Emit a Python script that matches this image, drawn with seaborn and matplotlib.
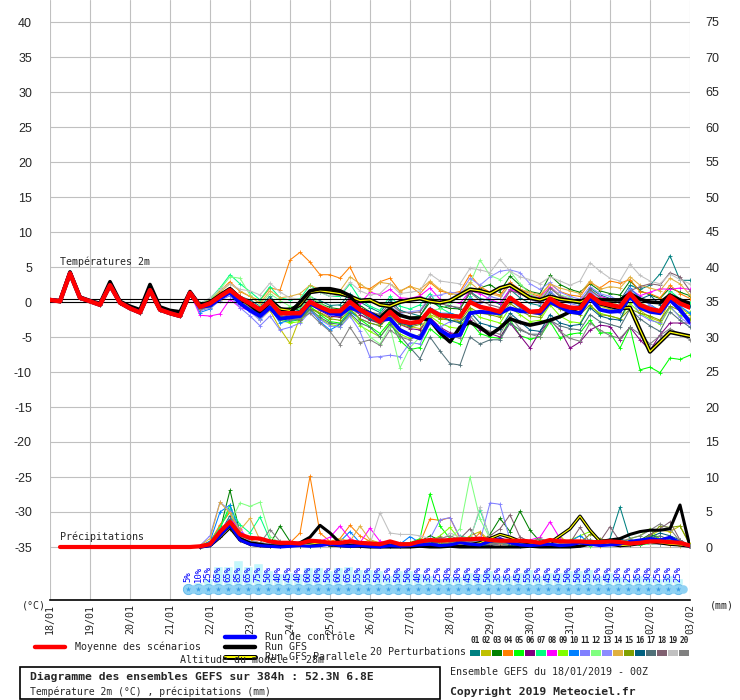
import matplotlib
matplotlib.use("Agg")
import matplotlib.pyplot as plt
from matplotlib.patches import Rectangle
import seaborn as sns
import pandas as pd

# échéances du run : 0h à 384h, pas de 6h
ECHEANCES = list(range(0, 385, 6))
JOURS = list(range(0, 385, 24))
DATES = ["18/01", "19/01", "20/01", "21/01", "22/01", "23/01", "24/01", "25/01", "26/01",
         "27/01", "28/01", "29/01", "30/01", "31/01", "01/02", "02/02", "03/02"]

# début commun (tous les scénarios confondus jusqu'au 21/01 18h)
T_DEBUT = [0.3, 0.1, 4.1, 0.6, 0.1, -0.4, 2.4, -0.1, -0.9, -1.5, 1.7, -1.1, -1.6, -2.0, 1.3]
GFS_DEBUT = [0.3, 0.2, 4.3, 0.7, 0.2, -0.2, 2.9, 0.1, -0.6, -1.1, 2.5, -0.7, -1.2, -1.4, 1.5]

MOYENNE_T = T_DEBUT + [
    -0.7, -0.2, 0.8, 1.7, 0.6, -0.2, -1.1, 0.1, -1.6, -1.6,
    -1.6, 0.0, -0.7, -1.3, -1.3, 0.0, -1.1, -1.9, -2.8, -1.4,
    -2.7, -3.0, -2.8, -1.1, -1.9, -2.0, -2.1, 0.0, -0.7, -1.0,
    -1.4, 0.6, -0.4, -1.4, -1.3, 0.5, -0.4, -0.8, -0.9, 1.0,
    -0.1, -0.4, -0.7, 1.2, -0.4, -1.0, -1.3, 0.8, -0.2, -0.8]
CONTROLE_T = T_DEBUT + [
    -0.7, -0.5, 0.5, 1.4, -0.2, -1.2, -2.0, -0.8, -2.4, -2.2,
    -2.0, -0.2, -0.9, -1.6, -1.8, -0.8, -1.3, -1.6, -2.6, -2.4,
    -4.0, -4.7, -5.2, -2.6, -4.0, -4.9, -4.7, -1.6, -1.4, -1.5,
    -1.6, -0.9, -1.3, -1.4, -1.6, 0.0, -0.7, -1.4, -1.6, 0.6,
    -1.1, -1.4, -1.3, 0.8, -0.8, -1.4, -1.6, 0.3, -1.1, -2.9]
GFS_T = GFS_DEBUT + [
    -0.5, 0.0, 1.0, 1.9, 0.6, -0.4, -1.6, 0.0, -1.4, -1.6,
    0.0, 1.6, 1.9, 1.9, 1.6, 0.9, -1.1, -1.6, -2.3, -1.0,
    -1.9, -2.3, -2.3, -2.6, -4.4, -5.7, -3.6, -2.9, -3.6, -4.7,
    -3.7, -2.4, -2.9, -3.3, -3.0, -2.6, -2.1, -1.4, -0.7, 0.6,
    0.3, 0.3, 0.3, 1.2, 0.4, 0.0, -0.1, 1.0, 0.3, -0.2]
PARALLELE_T = T_DEBUT + [
    -0.6, -0.2, 0.9, 1.8, 0.5, -0.2, -1.2, 0.2, -1.0, -1.2,
    -0.4, 1.4, 1.6, 1.4, 1.2, 0.8, 0.2, 0.3, -0.4, -0.6,
    0.0, 0.3, 0.5, 0.1, -0.1, 0.2, 1.0, 1.8, 1.6, 1.2,
    2.0, 2.4, 1.5, 0.6, 0.3, 0.8, 0.4, 0.2, 0.0, 0.6,
    -0.2, -0.6, -0.9, -0.8, -4.0, -7.1, -5.7, -4.3, -4.6, -4.9]

# 20 perturbations, à partir de 90h
T_P01 = [-0.5, 0.0, 1.0, 2.0, 0.8, 0.3, -0.6, 0.8, -0.8, -1.2,
         -0.9, 0.7, 0.2, -0.5, -0.4, 1.2, 0.0, -0.8, -1.5, 0.3,
         -1.2, -1.6, -2.0, 0.4, -0.8, -0.5, -1.0, 1.5, 0.5, 0.2,
         -0.3, 1.8, 0.6, -0.2, -0.5, 1.4, 0.4, 0.0, -0.3, 2.0,
         1.0, 0.5, 0.2, 2.4, 1.8, 2.4, 4.0, 6.6, 3.1, 3.1]
T_P02 = [-1.0, -0.8, 0.3, 1.2, -0.3, -1.2, -2.5, -1.2, -3.8, -5.9,
         -2.2, -0.8, -1.5, -2.2, -2.0, -0.5, -1.8, -2.5, -3.2, -1.2,
         -2.6, -3.5, -3.8, -1.8, -2.4, -2.2, -2.8, 0.2, -0.5, -1.5,
         -2.0, 0.3, -0.8, -1.6, -1.8, 0.6, -0.7, -1.5, -1.0, 1.2,
         -0.6, -1.0, -1.4, 0.8, -1.2, -2.2, -2.8, 0.4, -0.8, -1.8]
T_P03 = [-0.8, -0.3, 0.9, 1.8, 0.5, -0.4, -1.3, 0.4, -1.0, -0.8,
         -1.2, 0.4, -0.2, -0.8, -1.0, 0.8, -0.5, -1.4, -2.0, -0.6,
         -1.8, -2.2, -2.0, 0.0, -0.6, -0.9, -1.0, 1.3, 2.0, 2.5,
         1.5, 3.7, 2.4, 1.5, 1.2, 3.8, 2.5, 1.8, 1.4, 2.6,
         1.6, 1.2, 1.0, 3.0, 1.6, 1.0, 0.5, 2.0, 1.4, 0.9]
T_P04 = [-0.3, 0.3, 1.6, 2.9, 1.5, 0.8, 0.2, 2.0, 1.7, 6.0,
         7.1, 5.7, 3.9, 3.9, 3.4, 5.0, 2.1, 1.9, 2.9, 3.4,
         1.5, 2.3, 1.2, 2.8, 1.6, 1.2, 1.5, 3.9, 2.2, 1.4,
         1.0, 2.8, 1.8, 1.2, 0.8, 2.6, 1.5, 1.0, 0.8, 2.8,
         2.0, 3.0, 2.7, 3.2, 1.5, 1.2, 0.6, 2.4, 1.2, 0.5]
T_P05 = [-0.9, -0.5, 0.5, 1.5, 0.2, -0.6, -1.8, -0.2, -2.4, -2.8,
         -2.5, -0.6, -1.8, -2.8, -3.0, -1.2, -2.5, -3.5, -4.5, -2.8,
         -5.5, -6.8, -6.5, -3.8, -5.0, -5.5, -6.0, -2.8, -4.5, -5.0,
         -5.2, -2.5, -4.8, -5.3, -5.0, -2.8, -5.1, -4.6, -4.4, -2.6,
         -4.4, -4.4, -6.6, -3.6, -9.7, -9.3, -10.1, -8.0, -8.2, -7.6]
T_P06 = [-0.7, -0.4, 0.6, 1.5, 0.3, -0.5, -1.6, -0.3, -2.0, -2.2,
         -2.0, -0.4, -1.2, -2.0, -2.2, -0.8, -1.8, -2.6, -3.0, -1.8,
         -3.2, -3.8, -4.0, -2.2, -3.6, -4.4, -4.6, -2.6, -4.0, -4.5,
         -5.0, -3.0, -4.8, -6.6, -4.2, -2.6, -4.0, -6.6, -5.7, -4.0,
         -3.3, -3.5, -5.4, -3.6, -5.4, -6.9, -4.7, -3.0, -3.0, -3.0]
T_P07 = [-0.2, 0.5, 2.0, 3.9, 2.6, 1.5, 0.3, 2.2, 0.6, 0.3,
         0.5, 2.4, 1.4, 0.8, 0.8, 2.6, 0.4, -0.6, -1.2, 0.8,
         -0.6, -1.0, -0.4, 1.2, -0.8, -1.6, -2.0, 0.8, -0.6, -1.0,
         -1.8, 0.8, -0.4, -1.2, -1.6, 0.6, -0.6, -1.2, -1.4, 1.2,
         0.0, -0.6, -1.0, 1.4, -0.4, -0.6, -1.2, 1.6, 0.4, -0.2]
T_P08 = [-1.9, -2.0, -1.7, 0.4, -0.8, -1.2, -2.0, -0.5, -2.0, -2.2,
         -1.4, 0.4, -0.5, -1.0, -1.2, 0.6, -0.2, 1.4, 1.0, 1.8,
         0.6, 0.5, 0.9, 2.0, 0.4, 0.1, -0.2, 1.6, 1.2, 0.4,
         -0.2, 1.8, 1.2, 1.0, 0.6, 2.2, 1.0, 0.4, 0.2, 1.6,
         0.8, 0.4, 0.2, 1.8, 0.9, 1.4, 1.9, 1.8, 2.0, 1.8]
T_P09 = [-0.9, -0.6, 0.6, 1.4, 0.1, -0.8, -1.8, -0.4, -2.6, -3.0,
         -2.8, -1.2, -2.4, -3.2, -3.5, -1.8, -3.4, -4.2, -5.0, -3.0,
         -4.6, -5.2, -4.8, -2.0, -3.0, -3.6, -3.8, -1.0, -2.2, -2.6,
         -3.0, -0.8, -1.8, -2.8, -2.6, -0.4, -2.0, -2.8, -3.0, -0.6,
         -1.6, -2.0, -2.4, -0.2, -1.6, -2.4, -3.2, -0.8, -2.0, -1.4]
T_P10 = [-1.5, -1.0, 0.4, 1.2, -0.3, -1.0, -2.4, -0.8, -3.0, -2.6,
         -2.5, -1.0, -2.8, -4.0, -3.2, -1.4, -2.4, -3.0, -3.4, -1.6,
         -3.0, -3.4, -2.6, -0.8, -1.6, -1.6, -2.0, 0.4, -0.4, -1.2,
         -1.6, 0.2, -0.8, -1.2, -1.6, 0.8, -0.2, -0.6, -0.8, 1.4,
         0.2, -0.4, -0.8, 2.0, 0.6, -0.4, -1.2, 1.0, -0.6, -1.6]
T_P11 = [-1.2, -0.9, 0.2, 0.9, -0.8, -2.0, -3.4, -2.0, -4.0, -3.6,
         -3.0, -1.4, -2.5, -3.4, -3.6, -2.0, -4.2, -7.9, -7.8, -7.6,
         -7.8, -5.8, -6.0, -3.0, -3.6, -2.8, -2.4, 0.6, -0.2, 0.8,
         0.4, 2.6, 1.4, 0.4, -0.2, 1.6, 0.2, -0.2, -0.6, 1.6,
         0.2, -0.6, -1.6, 0.8, -1.8, -2.6, -3.0, -0.6, -2.2, -3.2]
T_P12 = [-0.6, 0.2, 1.8, 3.6, 3.4, 1.0, -0.4, 1.2, 0.2, -0.6,
         -1.0, 0.8, -0.2, -1.0, -1.4, 0.2, -3.0, -5.0, -6.0, -3.5,
         -9.4, -6.5, -5.0, -1.2, -1.0, -0.2, 0.8, 2.6, 6.0, 3.8,
         3.2, 4.4, 2.6, 1.2, 0.4, 2.0, 1.0, 0.6, 0.0, 1.8,
         0.6, 0.2, -0.6, 1.4, 0.0, -0.8, -1.4, 1.2, 0.2, -0.4]
T_P13 = [-0.8, -0.4, 0.6, 1.4, 0.0, -1.4, -2.6, -1.0, -2.2, -2.0,
         -1.8, -0.2, -1.0, -1.8, -1.8, -0.4, -1.4, -2.0, -2.4, -0.6,
         -1.6, -1.4, -1.2, 0.8, 1.0, 1.4, 1.2, 3.4, 2.4, 3.6,
         4.4, 4.6, 4.2, 2.6, 1.8, 2.8, 1.4, 0.8, 0.4, 2.2,
         1.2, 0.8, 0.2, 1.8, 0.4, -0.4, -1.6, 0.4, -1.4, -2.4]
T_P14 = [-0.4, 0.2, 1.4, 2.6, 1.6, 0.8, -0.2, 1.6, 0.6, 0.8,
         1.2, 2.4, 1.8, 1.4, 1.6, 3.6, 2.6, 1.6, 2.8, 2.6,
         1.6, 2.2, 1.8, 3.0, 1.8, 1.2, 1.0, 2.8, 1.6, 1.2,
         0.8, 2.4, 1.8, 1.4, 1.0, 2.6, 2.0, 1.6, 1.2, 3.0,
         1.8, 2.2, 2.0, 3.6, 2.4, 2.0, 1.6, 3.4, 2.6, 1.0]
T_P15 = [-1.0, -0.6, 0.4, 1.4, 0.2, -0.6, -1.6, -0.4, -2.0, -2.4,
         -2.6, -1.0, -1.6, -2.4, -2.6, -1.0, -2.4, -3.0, -3.4, -2.0,
         -3.2, -3.6, -3.2, -1.4, -2.4, -2.6, -2.8, -0.8, -1.6, -1.8,
         -2.2, -0.2, -1.2, -2.0, -2.2, -0.2, -1.0, -1.6, -1.8, -0.4,
         -1.8, -2.0, -2.4, -1.0, -1.6, -2.0, -2.6, -0.6, -1.2, -2.4]
T_P16 = [-0.8, -0.4, 0.6, 1.6, 0.6, 0.0, -1.0, 0.4, -1.2, -1.4,
         -1.2, 0.2, -0.8, -1.6, -1.8, -0.2, -1.4, -2.4, -3.0, -1.6,
         -3.0, -3.4, -3.0, -1.0, -2.0, -2.6, -3.0, -1.4, -3.0, -3.4,
         -3.8, -1.6, -2.8, -4.0, -4.2, -1.8, -3.0, -3.4, -3.2, -0.8,
         -2.0, -2.4, -2.6, 0.6, 0.4, 1.0, -0.4, 0.6, 0.2, -0.6]
T_P17 = [-0.9, -0.6, 0.4, 1.2, 0.0, -1.0, -2.0, -0.6, -2.2, -2.4,
         -2.4, -1.0, -2.2, -3.0, -3.2, -1.6, -3.0, -3.6, -5.0, -3.2,
         -4.8, -6.5, -8.1, -5.0, -7.0, -8.8, -9.0, -5.0, -6.0, -5.4,
         -5.4, -3.0, -4.0, -4.6, -4.6, -2.6, -3.4, -3.8, -4.0, -1.8,
         -2.8, -3.2, -3.6, -1.0, -2.4, -3.4, -4.2, -1.4, -2.6, -3.6]
T_P18 = [-0.7, -0.2, 0.8, 1.6, 0.4, -0.4, -1.4, 0.0, -1.8, -2.0,
         -1.6, 0.2, -0.6, -1.2, -1.2, 0.4, -0.8, -1.4, -1.8, -0.2,
         -1.4, -1.6, -1.4, 0.6, -0.2, -0.6, -0.8, 1.4, 0.2, -0.4,
         -0.8, 1.6, 1.2, 0.4, 0.0, 2.0, 0.8, 0.2, 0.0, 1.8,
         0.6, 0.4, -0.2, 1.6, 2.2, 2.6, 2.4, 4.2, 3.6, 1.6]
T_P19 = [-0.2, 0.6, 1.8, 2.6, 1.8, 1.6, 1.0, 2.7, 1.4, 0.6,
         0.4, 1.6, 1.4, 0.8, 1.0, 2.8, 1.6, 1.0, 1.2, 2.6,
         1.2, 1.4, 1.6, 4.0, 3.0, 2.8, 2.6, 4.8, 4.6, 4.2,
         6.1, 4.4, 3.6, 3.2, 2.6, 3.6, 3.0, 2.4, 3.0, 5.6,
         4.4, 3.4, 3.0, 5.4, 3.8, 3.0, 2.6, 4.0, 3.2, 2.6]
T_P20 = [-1.0, -0.6, 0.5, 1.4, 0.0, -0.8, -2.0, -0.4, -2.4, -2.6,
         -2.4, -1.6, -3.0, -4.2, -6.1, -3.6, -5.8, -5.4, -6.2, -4.0,
         -5.0, -5.4, -4.6, -2.6, -3.8, -4.8, -5.2, -2.0, -3.6, -4.2,
         -4.6, -2.0, -3.8, -4.6, -5.0, -2.4, -4.2, -5.2, -5.6, -3.0,
         -4.0, -4.8, -5.2, -3.6, -4.6, -6.0, -4.8, -3.8, -4.6, -5.4]

# précipitations (mm / 6h)
P_DEBUT = [0.0, 0.0, 0.0, 0.0, 0.0, 0.0, 0.0, 0.0, 0.0, 0.0, 0.0, 0.0, 0.0, 0.0]
MOYENNE_P = P_DEBUT + [
    0.1, 0.4, 2.2, 3.6, 1.8, 1.3, 1.2, 0.8, 0.6, 0.6,
    0.5, 0.9, 0.8, 0.6, 0.6, 0.8, 0.6, 0.5, 0.4, 0.8,
    0.4, 0.4, 0.8, 1.0, 0.9, 1.0, 1.1, 1.1, 1.2, 1.0,
    0.9, 0.9, 0.9, 0.8, 0.6, 1.0, 0.8, 0.8, 0.8, 0.7,
    0.7, 0.8, 0.7, 0.5, 0.6, 0.8, 0.8, 0.7, 0.6, 0.2]
CONTROLE_P = [0.0, 0.2, 1.6, 3.2, 1.0, 0.4, 0.2, 0.1, 0.0, 0.1,
              0.2, 0.1, 0.2, 0.4, 0.2, 0.1, 0.2, 0.1, 0.0, 0.2,
              0.1, 0.2, 0.3, 0.4, 0.2, 0.3, 0.6, 0.4, 0.3, 0.8,
              1.2, 0.6, 0.3, 0.2, 0.3, 0.4, 0.2, 0.3, 0.6, 0.4,
              0.2, 0.3, 0.4, 0.8, 1.0, 1.2, 1.0, 1.4, 0.6, 0.1]
GFS_P = [0.0, 0.3, 1.8, 3.0, 1.2, 0.6, 0.4, 0.2, 0.1, 0.2,
         0.6, 1.4, 3.1, 2.0, 0.6, 0.2, 0.1, 0.0, 0.0, 0.0,
         0.0, 0.0, 0.1, 0.0, 0.0, 0.1, 0.0, 0.0, 0.0, 0.0,
         0.0, 0.0, 0.0, 0.1, 0.0, 0.0, 0.0, 0.0, 0.1, 0.4,
         0.8, 1.0, 1.2, 1.8, 2.2, 2.4, 2.4, 2.6, 6.0, 0.0]
PARALLELE_P = [0.0, 0.2, 1.4, 2.8, 1.0, 0.4, 0.2, 0.1, 0.1, 0.2,
               0.3, 0.4, 0.6, 0.3, 0.2, 0.1, 0.2, 0.1, 0.1, 0.2,
               0.1, 0.1, 0.2, 0.1, 0.2, 0.2, 0.4, 0.3, 0.6, 1.2,
               1.8, 1.4, 0.8, 0.6, 0.4, 0.6, 1.6, 2.6, 4.4, 2.4,
               0.8, 0.4, 0.2, 0.3, 0.5, 0.8, 0.6, 0.4, 0.3, 0.1]
P_P01 = [0.2, 0.5, 2.0, 4.5, 1.2, 0.6, 0.4, 0.2, 0.1, 0.3,
         0.2, 0.4, 0.6, 0.3, 0.2, 0.5, 0.3, 0.2, 0.1, 0.4,
         0.2, 0.1, 0.3, 0.6, 0.4, 0.5, 0.8, 0.4, 0.3, 0.2,
         0.5, 0.3, 0.2, 0.4, 0.3, 0.6, 0.4, 0.2, 0.3, 0.5,
         0.4, 1.2, 5.7, 1.0, 0.6, 0.8, 0.5, 1.2, 0.4, 0.1]
P_P02 = [0.1, 0.8, 3.0, 5.0, 1.5, 0.8, 0.5, 0.3, 0.4, 0.2,
         0.3, 0.2, 0.6, 0.8, 0.4, 0.2, 0.5, 1.0, 0.6, 0.3,
         0.4, 0.6, 0.3, 0.8, 1.2, 0.9, 0.6, 1.6, 2.2, 0.8,
         0.6, 0.4, 1.0, 0.8, 0.5, 0.9, 1.4, 0.6, 0.4, 1.0,
         0.8, 0.5, 0.4, 0.6, 0.8, 1.6, 2.4, 2.2, 3.0, 0.4]
P_P03 = [0.0, 0.4, 2.4, 8.1, 2.0, 0.8, 0.6, 0.4, 3.0, 0.8,
         0.4, 0.6, 0.3, 0.5, 0.8, 0.6, 0.2, 0.4, 0.3, 0.6,
         0.3, 0.5, 0.8, 1.6, 1.0, 0.6, 0.8, 1.4, 0.6, 1.8,
         4.1, 2.2, 5.1, 2.4, 0.8, 1.0, 0.6, 0.4, 0.8, 0.6,
         0.4, 0.3, 0.5, 0.8, 1.0, 1.8, 1.2, 0.6, 0.4, 0.2]
P_P04 = [0.1, 0.6, 3.2, 5.0, 1.8, 1.0, 0.6, 0.4, 0.3, 0.6,
         2.0, 10.1, 2.0, 0.8, 1.2, 3.1, 1.6, 0.8, 0.4, 0.6,
         0.3, 0.4, 0.6, 4.0, 3.8, 4.2, 1.2, 0.8, 2.0, 0.6,
         0.4, 0.5, 0.3, 0.6, 0.4, 0.3, 0.5, 0.4, 0.6, 0.3,
         0.2, 0.4, 0.3, 0.6, 0.8, 0.5, 0.4, 0.3, 0.2, 0.1]
P_P05 = [0.0, 0.4, 2.6, 6.0, 1.4, 0.8, 0.4, 0.3, 0.2, 0.4,
         0.2, 0.3, 0.5, 0.2, 0.4, 0.6, 0.3, 0.2, 0.4, 0.5,
         0.4, 0.6, 1.2, 7.6, 3.0, 1.2, 0.8, 0.6, 0.8, 0.5,
         0.4, 0.3, 0.6, 0.8, 0.5, 0.4, 0.3, 0.6, 0.4, 0.2,
         0.3, 0.6, 0.8, 0.4, 0.3, 0.5, 0.6, 0.4, 0.3, 0.1]
P_P06 = [0.0, 0.3, 1.8, 3.2, 1.0, 0.5, 0.3, 0.2, 0.4, 0.2,
         0.1, 0.3, 0.4, 0.2, 0.3, 0.4, 0.2, 0.5, 0.3, 0.2,
         0.4, 0.2, 0.3, 0.6, 0.4, 0.8, 1.0, 0.6, 0.4, 0.3,
         0.5, 0.4, 0.6, 0.3, 0.4, 0.8, 0.6, 0.4, 0.3, 0.5,
         0.4, 0.6, 0.5, 0.3, 0.4, 0.6, 0.8, 0.5, 0.4, 0.2]
P_P07 = [0.2, 0.8, 2.8, 5.5, 3.2, 2.0, 4.3, 1.0, 0.4, 0.2,
         0.3, 0.4, 0.2, 0.6, 0.4, 0.3, 0.5, 0.4, 0.2, 0.3,
         0.2, 0.4, 0.6, 0.8, 1.2, 0.8, 1.6, 1.2, 5.3, 1.4,
         0.6, 0.8, 0.4, 0.3, 0.5, 0.4, 0.6, 0.3, 0.4, 0.6,
         0.4, 0.3, 0.5, 0.8, 0.6, 0.4, 0.5, 0.4, 0.3, 0.1]
P_P08 = [0.0, 0.6, 2.4, 4.0, 2.6, 0.8, 0.4, 0.6, 0.3, 0.8,
         0.6, 0.5, 0.8, 1.4, 3.0, 1.2, 0.6, 2.7, 0.8, 0.4,
         0.3, 0.5, 0.4, 0.6, 0.8, 0.5, 0.6, 0.4, 0.8, 0.6,
         0.4, 0.6, 0.5, 1.0, 1.4, 3.6, 1.2, 0.6, 0.4, 0.5,
         0.6, 0.4, 0.3, 0.5, 0.4, 0.6, 0.8, 0.5, 0.4, 0.2]
P_P09 = [0.0, 0.3, 1.6, 3.0, 1.2, 0.6, 0.4, 0.3, 0.2, 0.3,
         0.4, 0.2, 0.3, 0.5, 0.4, 0.2, 0.3, 0.2, 0.4, 0.3,
         0.5, 0.6, 0.4, 0.8, 1.6, 2.8, 1.0, 0.8, 0.6, 1.2,
         0.8, 0.6, 0.4, 0.5, 0.8, 0.6, 0.4, 1.0, 1.6, 2.2,
         0.8, 0.6, 0.5, 1.2, 1.6, 2.6, 1.0, 0.6, 0.5, 0.1]
P_P10 = [0.1, 0.8, 5.0, 6.0, 2.2, 0.8, 0.6, 0.3, 0.2, 0.4,
         0.3, 0.2, 0.4, 0.5, 0.8, 2.2, 0.6, 0.4, 0.3, 0.2,
         0.4, 1.5, 0.6, 0.8, 0.5, 0.6, 0.4, 0.8, 0.6, 0.4,
         0.5, 0.3, 0.4, 0.6, 0.3, 0.5, 0.4, 0.8, 1.6, 0.6,
         0.4, 0.6, 0.8, 0.5, 0.6, 1.0, 1.2, 0.8, 0.6, 0.2]
P_P11 = [0.2, 1.6, 6.4, 5.2, 2.0, 0.8, 0.6, 0.4, 0.3, 0.2,
         0.2, 0.4, 0.3, 0.6, 0.4, 0.3, 0.5, 0.4, 0.2, 0.3,
         0.2, 0.4, 0.6, 1.2, 3.9, 4.2, 1.4, 0.6, 0.8, 6.3,
         6.1, 1.0, 0.6, 0.4, 0.5, 0.3, 0.6, 0.4, 0.3, 0.5,
         0.4, 0.6, 0.3, 0.5, 0.4, 0.8, 0.6, 0.4, 0.3, 0.1]
P_P12 = [0.0, 0.5, 2.0, 3.4, 6.3, 5.8, 6.4, 1.5, 0.6, 0.4,
         0.3, 0.5, 0.4, 0.2, 0.3, 0.6, 0.4, 0.3, 0.2, 0.4,
         0.3, 0.5, 0.4, 0.8, 0.6, 1.2, 2.6, 10.0, 4.0, 1.2,
         0.6, 0.8, 0.5, 0.4, 0.6, 0.3, 0.5, 0.4, 0.6, 0.3,
         0.4, 0.6, 0.5, 0.3, 0.4, 0.6, 0.8, 0.4, 0.3, 0.1]
P_P13 = [0.0, 0.6, 2.2, 3.0, 1.6, 0.8, 0.5, 0.3, 0.2, 0.4,
         0.3, 0.5, 0.2, 0.4, 0.3, 0.6, 0.4, 0.2, 0.3, 0.4,
         0.4, 0.3, 0.6, 0.8, 0.6, 0.5, 1.0, 0.8, 0.6, 0.8,
         1.2, 0.8, 0.6, 0.4, 0.5, 0.6, 0.8, 0.4, 0.3, 0.6,
         0.5, 0.4, 0.6, 0.8, 0.6, 0.5, 0.4, 0.6, 0.3, 0.1]
P_P14 = [0.2, 1.2, 6.4, 4.8, 2.4, 4.1, 1.0, 0.6, 0.4, 0.3,
         0.6, 0.5, 0.4, 0.6, 1.2, 0.8, 3.0, 1.0, 0.5, 0.4,
         0.3, 0.5, 0.4, 0.6, 0.8, 0.6, 0.5, 0.8, 0.6, 0.4,
         0.5, 0.4, 0.6, 0.8, 0.5, 0.4, 0.3, 0.6, 0.5, 0.4,
         0.3, 0.5, 0.4, 0.6, 0.8, 0.5, 0.6, 0.4, 0.3, 0.1]
P_P15 = [0.0, 0.3, 1.4, 2.6, 1.0, 0.5, 0.3, 0.2, 0.4, 0.3,
         0.2, 0.4, 0.3, 0.5, 0.2, 0.4, 0.3, 0.5, 0.4, 0.3,
         0.5, 0.6, 0.4, 0.8, 0.6, 0.5, 0.8, 1.2, 0.8, 1.6,
         1.0, 0.6, 0.5, 0.8, 1.2, 0.6, 0.4, 0.5, 0.6, 1.8,
         1.2, 0.8, 0.6, 0.5, 0.8, 1.6, 3.0, 2.8, 3.0, 0.3]
P_P16 = [0.0, 0.4, 1.8, 3.6, 1.4, 0.6, 0.4, 0.3, 0.2, 0.4,
         0.3, 0.2, 0.5, 0.4, 0.3, 0.6, 0.4, 0.2, 0.3, 0.5,
         0.4, 0.3, 0.5, 0.6, 0.8, 1.2, 0.6, 0.5, 0.4, 0.6,
         0.8, 0.5, 0.4, 0.6, 0.8, 0.5, 0.4, 0.6, 0.8, 1.0,
         0.6, 0.8, 1.2, 0.6, 0.5, 1.4, 2.0, 1.6, 1.0, 0.2]
P_P17 = [0.0, 0.4, 2.0, 4.0, 1.6, 0.8, 0.5, 0.3, 0.4, 0.2,
         0.3, 0.5, 0.4, 0.2, 0.3, 0.5, 0.4, 0.3, 0.2, 0.4,
         0.3, 0.4, 0.6, 1.0, 0.8, 1.2, 0.8, 0.6, 0.5, 0.4,
         0.6, 0.5, 0.8, 0.6, 0.4, 0.5, 0.6, 0.8, 0.6, 0.4,
         0.5, 0.6, 0.8, 0.5, 0.6, 1.2, 1.6, 1.0, 0.6, 0.2]
P_P18 = [0.0, 0.3, 1.6, 3.0, 1.2, 0.6, 0.4, 0.6, 0.3, 0.2,
         0.4, 0.3, 0.5, 0.6, 0.4, 0.3, 0.5, 0.6, 0.4, 0.3,
         0.5, 0.4, 0.6, 0.8, 1.4, 0.6, 1.2, 2.6, 0.8, 1.6,
         2.6, 4.6, 1.4, 0.8, 0.6, 0.5, 0.8, 0.6, 2.8, 0.6,
         0.8, 2.9, 0.8, 0.6, 0.5, 1.8, 2.6, 3.6, 1.0, 0.2]
P_P19 = [0.0, 0.4, 1.8, 3.4, 1.6, 0.8, 0.6, 0.4, 0.3, 0.5,
         0.4, 0.6, 0.5, 0.8, 0.6, 0.5, 0.6, 0.4, 4.9, 2.0,
         1.8, 1.8, 1.6, 1.2, 0.8, 2.0, 1.4, 1.0, 5.7, 1.2,
         0.8, 0.6, 0.4, 0.5, 0.6, 0.4, 0.5, 0.6, 0.8, 0.6,
         0.5, 0.4, 0.6, 0.8, 0.6, 0.5, 0.8, 0.6, 0.4, 0.2]
P_P20 = [0.0, 0.3, 1.6, 3.2, 1.4, 0.6, 0.5, 2.5, 0.8, 0.6,
         0.4, 0.5, 0.6, 0.4, 0.3, 0.5, 0.4, 0.6, 0.5, 0.4,
         0.6, 0.5, 0.8, 1.0, 1.2, 1.6, 1.0, 0.8, 0.6, 0.5,
         0.6, 0.8, 0.5, 0.6, 1.2, 0.8, 0.6, 0.5, 0.6, 1.0,
         0.8, 0.6, 0.8, 1.2, 1.6, 2.4, 3.3, 2.6, 0.8, 0.2]

# probabilité de neige (%) de 84h à 378h
POURCENTAGES = [5, 10, 25, 65, 65, 85, 65, 75, 50, 40, 45, 40, 60, 60, 50, 60, 65, 55, 55, 50,
                35, 50, 50, 40, 35, 25, 30, 30, 45, 40, 50, 35, 35, 45, 55, 35, 45, 45, 50, 50,
                55, 35, 45, 30, 25, 35, 30, 25, 35, 25]

NUMEROS = ["01", "02", "03", "04", "05", "06", "07", "08", "09", "10",
           "11", "12", "13", "14", "15", "16", "17", "18", "19", "20"]
COULEURS = ["#008080", "#c0c000", "#008000", "#ff8000", "#00ff00", "#800080", "#00ff80",
            "#ff00ff", "#80ff00", "#0080ff", "#8080ff", "#80ff80", "#8c8cff", "#e0b040",
            "#80a000", "#006080", "#507078", "#806070", "#c0c0c0", "#808080"]

PERTURB_T = [T_P01, T_P02, T_P03, T_P04, T_P05, T_P06, T_P07, T_P08, T_P09, T_P10,
             T_P11, T_P12, T_P13, T_P14, T_P15, T_P16, T_P17, T_P18, T_P19, T_P20]
PERTURB_P = [P_P01, P_P02, P_P03, P_P04, P_P05, P_P06, P_P07, P_P08, P_P09, P_P10,
             P_P11, P_P12, P_P13, P_P14, P_P15, P_P16, P_P17, P_P18, P_P19, P_P20]

ZERO_PRECIP = -35  # le 0 mm (axe de droite) est placé à -35 °C

for s in PERTURB_T + PERTURB_P + [CONTROLE_P, GFS_P, PARALLELE_P]:
    assert len(s) == 50, len(s)
for s in [MOYENNE_T, CONTROLE_T, GFS_T, PARALLELE_T]:
    assert len(s) == 65, len(s)

# tables longues pour seaborn
rows_t, rows_p = [], []
h_suite = ECHEANCES[15:]
for num, t_vals, p_vals in zip(NUMEROS, PERTURB_T, PERTURB_P):
    for h, v in zip(ECHEANCES, T_DEBUT + t_vals):
        rows_t.append((num, h, v))
    for h, v in zip(h_suite, p_vals):
        rows_p.append((num, h, ZERO_PRECIP + v))
df_t = pd.DataFrame(rows_t, columns=["membre", "heure", "valeur"])
df_p = pd.DataFrame(rows_p, columns=["membre", "heure", "valeur"])
palette = dict(zip(NUMEROS, COULEURS))

sns.set_style("white")
plt.rcParams["font.family"] = ["Liberation Sans", "DejaVu Sans"]
plt.rcParams["axes.unicode_minus"] = False
MONO = "DejaVu Sans Mono"

fig = plt.figure(figsize=(7.4, 7.0), dpi=100)
ax = fig.add_axes([50 / 740, 100 / 700, 640 / 740, 600 / 700])
YMIN, YMAX = -35 - 53 / 7, 40 + 22 / 7
ax.set_xlim(0, 384)
ax.set_ylim(YMIN, YMAX)

# grille
ax.set_xticks(JOURS)
ax.set_xticklabels(DATES, rotation=90, fontsize=7.2, family=MONO)
ax.set_yticks(range(-35, 41, 5))
ax.tick_params(axis="x", length=0, pad=3)
ax.tick_params(axis="y", length=0, pad=13, labelsize=9)
ax.grid(True, color="#c0c0c0", linewidth=0.8)
ax.set_axisbelow(True)
for side in ["top", "left", "right"]:
    ax.spines[side].set_visible(False)
ax.spines["bottom"].set_color("black")
ax.spines["bottom"].set_linewidth(1.2)

ax2 = ax.twinx()
ax2.set_ylim(YMIN - ZERO_PRECIP, YMAX - ZERO_PRECIP)
ax2.set_yticks(range(0, 76, 5))
ax2.tick_params(axis="y", length=0, pad=11, labelsize=9)
for side in ax2.spines:
    ax2.spines[side].set_visible(False)

# probabilité de neige : barres + étiquettes + flocons
h_pct = [h - 1.2 for h in ECHEANCES[14:64]]
ax.bar(h_pct, [p * 0.3 / 7 for p in POURCENTAGES], bottom=-40.43, width=6,
       color="#c4f6fa", zorder=1)
for h, p in zip(h_pct, POURCENTAGES):
    ax.text(h, -40.0, f"{p}%", rotation=90, ha="center", va="bottom",
            fontsize=6.4, family=MONO, color="#0000ff", zorder=4)
ax.scatter(h_pct, [-41.0] * len(h_pct), s=55, marker="o", color="#8fd2f4",
           edgecolor="#5cb6ea", linewidth=0.6, zorder=2, clip_on=False)
ax.scatter([h + 3 for h in h_pct], [-41.0] * len(h_pct), s=38, marker="o",
           color="#8fd2f4", linewidth=0, zorder=2, clip_on=False)
ax.scatter(h_pct, [-41.0] * len(h_pct), s=16, marker="*", color="#3a9ee6",
           linewidth=0, zorder=3, clip_on=False)

# perturbations
sns.lineplot(data=df_t, x="heure", y="valeur", hue="membre", palette=palette,
             estimator=None, linewidth=0.75, marker="+", markersize=3.5,
             legend=False, ax=ax)
sns.lineplot(data=df_p, x="heure", y="valeur", hue="membre", palette=palette,
             estimator=None, linewidth=0.75, marker="+", markersize=3.5,
             legend=False, ax=ax)
for ln in ax.lines:
    ln.set_markeredgecolor(ln.get_color())
    ln.set_markeredgewidth(0.6)

# isotherme 0 °C (double trait)
ax.axhline(0, color="black", linewidth=0.8, zorder=2.5)
ax.axhline(0.5, color="black", linewidth=0.8, zorder=2.5)

# runs déterministes et moyenne
sns.lineplot(x=ECHEANCES, y=PARALLELE_T, color="black", linewidth=3.0, ax=ax, zorder=3)
sns.lineplot(x=ECHEANCES, y=PARALLELE_T, color="#ffff00", linewidth=0.9, ax=ax, zorder=3.1)
sns.lineplot(x=ECHEANCES, y=GFS_T, color="black", linewidth=2.6, ax=ax, zorder=3.2)
sns.lineplot(x=ECHEANCES, y=CONTROLE_T, color="#0000ff", linewidth=2.8, ax=ax, zorder=3.3)
sns.lineplot(x=ECHEANCES, y=MOYENNE_T, color="#ff0000", linewidth=3.2, ax=ax, zorder=3.5)

p_par = [ZERO_PRECIP + v for v in PARALLELE_P]
sns.lineplot(x=h_suite, y=p_par, color="black", linewidth=2.4, ax=ax, zorder=3)
sns.lineplot(x=h_suite, y=p_par, color="#ffff00", linewidth=0.8, ax=ax, zorder=3.1)
sns.lineplot(x=h_suite, y=[ZERO_PRECIP + v for v in GFS_P], color="black",
             linewidth=2.2, ax=ax, zorder=3.2)
sns.lineplot(x=h_suite, y=[ZERO_PRECIP + v for v in CONTROLE_P], color="#0000ff",
             linewidth=2.2, ax=ax, zorder=3.3)
sns.lineplot(x=ECHEANCES[1:], y=[ZERO_PRECIP + v for v in MOYENNE_P], color="#ff0000",
             linewidth=3.0, ax=ax, zorder=3.5)
ax.set_xlabel("")
ax.set_ylabel("")

ax.text(6, 40 - 240 / 7, "Températures 2m", fontsize=7.2, family=MONO,
        va="center", ha="left", zorder=5)
ax.text(6, 40 - 515 / 7, "Précipitations", fontsize=7.2, family=MONO,
        va="center", ha="left", zorder=5)

# zone de légende, en pixels
ov = fig.add_axes([0, 0, 1, 1])
ov.set_xlim(0, 740)
ov.set_ylim(700, 0)
ov.axis("off")
ov.text(22, 606, "(°C)", fontsize=7.2, family=MONO, va="center")
ov.text(710, 606, "(mm)", fontsize=7.2, family=MONO, va="center")

ov.plot([35, 65], [647, 647], color="#ff0000", linewidth=3.2)
ov.text(75, 647, "Moyenne des scénarios", fontsize=7.2, family=MONO, va="center")
ov.plot([225, 255], [637, 637], color="#0000ff", linewidth=3.2)
ov.plot([225, 255], [647, 647], color="black", linewidth=3.2)
ov.plot([225, 255], [657, 657], color="black", linewidth=3.6)
ov.plot([225, 255], [657, 657], color="#ffff00", linewidth=1.4)
ov.text(265, 637, "Run de contrôle", fontsize=7.2, family=MONO, va="center")
ov.text(265, 647, "Run GFS", fontsize=7.2, family=MONO, va="center")
ov.text(265, 657, "Run GFS Parallele", fontsize=7.2, family=MONO, va="center")
ov.text(180, 660, "Altitude du modèle : 28m", fontsize=7.2, family=MONO, va="center")

ov.text(370, 652, "20 Perturbations", fontsize=7.2, family=MONO, va="center")
for k, (num, c) in enumerate(zip(NUMEROS, COULEURS)):
    x0 = 470 + 11 * k
    ov.add_patch(Rectangle((x0, 650), 10, 6, color=c, linewidth=0))
    ov.text(x0 + 5, 645, num, fontsize=5.6, family=MONO, fontweight="bold",
            ha="center", va="bottom")

ov.add_patch(Rectangle((20, 667), 420, 32, fill=False, edgecolor="black", linewidth=1.2))
ov.text(30, 677, "Diagramme des ensembles GEFS sur 384h : 52.3N 6.8E", fontsize=8.2,
        family=MONO, fontweight="bold", va="center")
ov.text(30, 692, "Température 2m (°C) , précipitations (mm)", fontsize=7.0,
        family=MONO, va="center")
ov.text(450, 672, "Ensemble GEFS du 18/01/2019 - 00Z", fontsize=7.2, family=MONO, va="center")
ov.text(450, 692, "Copyright 2019 Meteociel.fr", fontsize=8.2, family=MONO,
        fontweight="bold", va="center")

fig.savefig("out.png", dpi=100)
